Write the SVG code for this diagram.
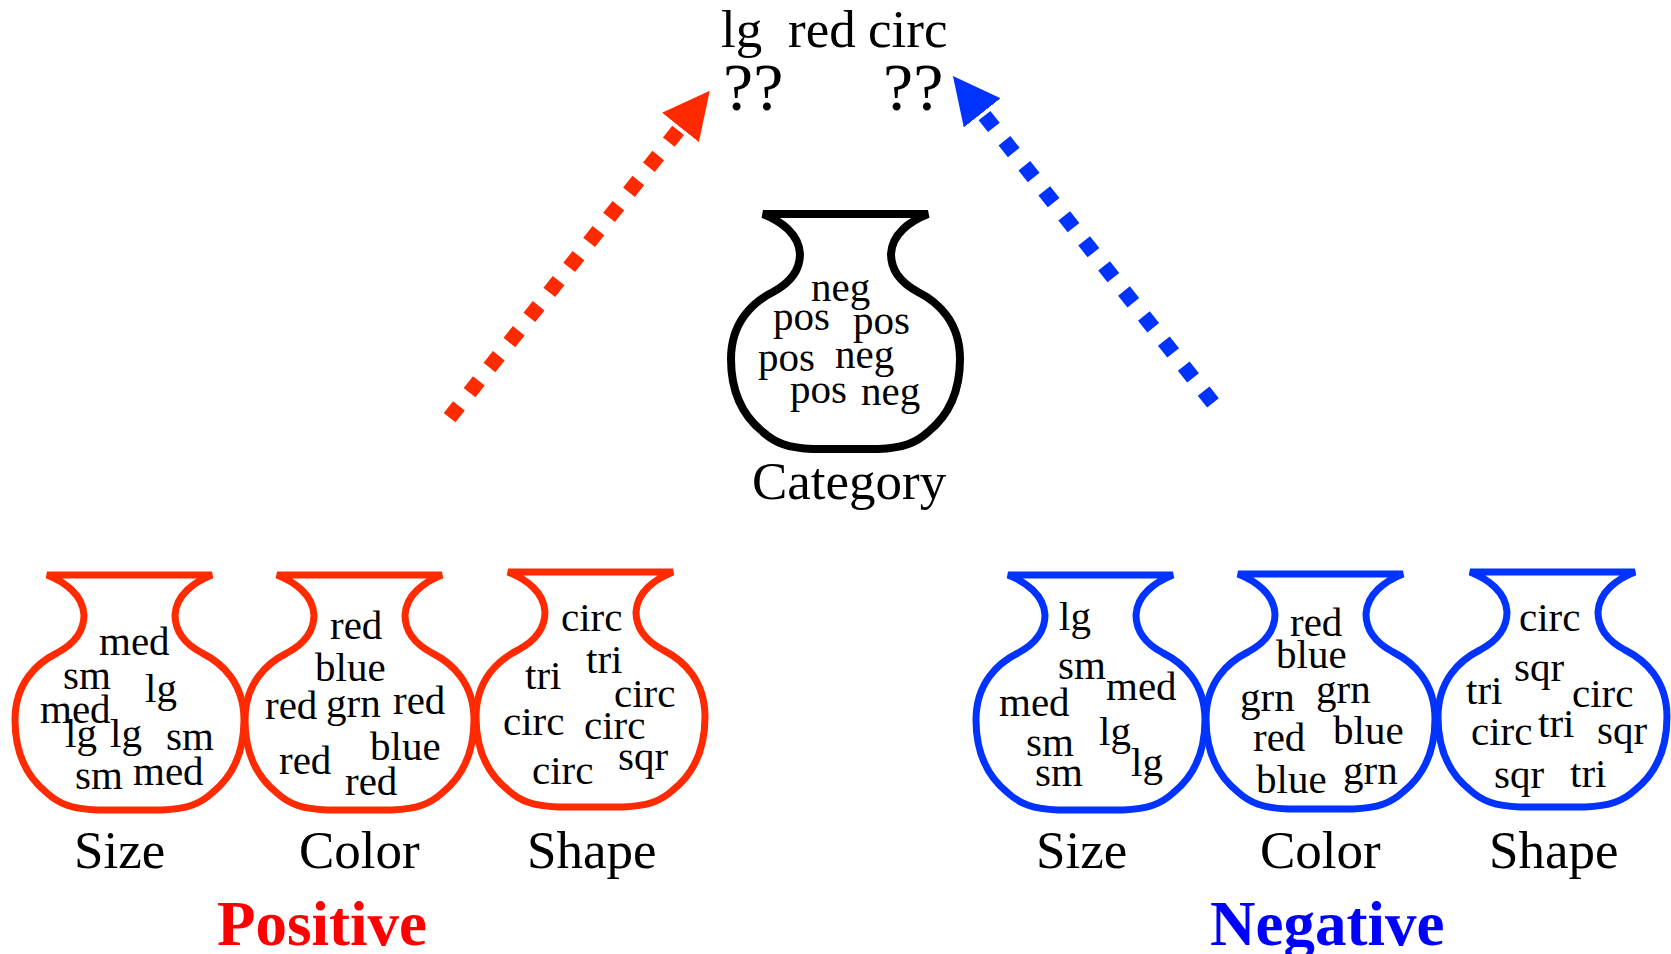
<svg xmlns="http://www.w3.org/2000/svg" xmlns:xlink="http://www.w3.org/1999/xlink" width="1671" height="954" viewBox="0 0 1671 954">
<style>
text{font-family:"Liberation Serif","Times New Roman",serif;fill:#000}
.w{font-size:41px}
.lbl{font-size:53px}
.top{font-size:53px}
.qq{font-size:68px}
.big{font-size:63px;font-weight:bold}
.jar{fill:none;stroke-width:7}
.jr{stroke:#ff2a00}
.jb{stroke:#0033ff}
.jk{stroke:#000;stroke-width:8}
.dash{fill:none;stroke-width:15;stroke-dasharray:15 17}
</style>
<defs>
<path id="jar" d="M0,0 H165 C147,7 129,20 128,40 C128,58 140,70 155,78 C175,88 197,108 197,145 C197,178 185,202 165,218 C153,229 140,234 115,235 L50,235 C25,234 12,229 0,218 C-20,202 -32,178 -32,145 C-32,108 -10,88 10,78 C25,70 37,58 37,40 C36,20 18,7 0,0 Z"/>
<marker id="ahr" markerUnits="userSpaceOnUse" markerWidth="47" markerHeight="47" viewBox="0 0 47 47" refX="0" refY="23.5" orient="auto"><path d="M0,0 L47,23.5 L0,47 Z" fill="#ff2a00"/></marker>
<marker id="ahb" markerUnits="userSpaceOnUse" markerWidth="47" markerHeight="47" viewBox="0 0 47 47" refX="0" refY="23.5" orient="auto"><path d="M0,0 L47,23.5 L0,47 Z" fill="#0033ff"/></marker>
</defs>
<rect width="1671" height="954" fill="#fff"/>

<g id="query">
<text class="top" x="721" y="47">lg</text>
<text class="top" x="788" y="47">red</text>
<text class="top" x="868" y="47">circ</text>
<text class="qq" x="723" y="110">??</text>
<text class="qq" x="883" y="110">??</text>
</g>

<g id="connectors">
<path class="dash" stroke="#ff2a00" d="M449.6,417.6 L680.5,127.5" marker-end="url(#ahr)"/>
<path class="dash" stroke="#0033ff" d="M1213,402.9 L982.2,112.8" marker-end="url(#ahb)"/>
</g>

<g id="category">
<use xlink:href="#jar" href="#jar" class="jar jk" transform="translate(763,214)"/>
<text class="w" x="811" y="301">neg</text>
<text class="w" x="773" y="330">pos</text>
<text class="w" x="853" y="334">pos</text>
<text class="w" x="758" y="371">pos</text>
<text class="w" x="835" y="368">neg</text>
<text class="w" x="790" y="403">pos</text>
<text class="w" x="861" y="405">neg</text>
<text class="lbl" x="752" y="499">Category</text>
</g>

<g id="pos-size">
<use xlink:href="#jar" href="#jar" class="jar jr" transform="translate(47,575)"/>
<text class="w" x="99" y="655">med</text>
<text class="w" x="63" y="689">sm</text>
<text class="w" x="145" y="702">lg</text>
<text class="w" x="40" y="723">med</text>
<text class="w" x="65" y="747">lg</text>
<text class="w" x="110" y="747">lg</text>
<text class="w" x="166" y="750">sm</text>
<text class="w" x="75" y="789">sm</text>
<text class="w" x="133" y="785">med</text>
<text class="lbl" x="74" y="868">Size</text>
</g>

<g id="pos-color">
<use xlink:href="#jar" href="#jar" class="jar jr" transform="translate(277,575)"/>
<text class="w" x="330" y="639">red</text>
<text class="w" x="315" y="681">blue</text>
<text class="w" x="265" y="719">red</text>
<text class="w" x="326" y="717">grn</text>
<text class="w" x="393" y="714">red</text>
<text class="w" x="370" y="760">blue</text>
<text class="w" x="279" y="774">red</text>
<text class="w" x="345" y="795">red</text>
<text class="lbl" x="299" y="868">Color</text>
</g>

<g id="pos-shape">
<use xlink:href="#jar" href="#jar" class="jar jr" transform="translate(508,572)"/>
<text class="w" x="561" y="631">circ</text>
<text class="w" x="586" y="673">tri</text>
<text class="w" x="525" y="689">tri</text>
<text class="w" x="614" y="707">circ</text>
<text class="w" x="503" y="735">circ</text>
<text class="w" x="584" y="739">circ</text>
<text class="w" x="618" y="770">sqr</text>
<text class="w" x="532" y="784">circ</text>
<text class="lbl" x="527" y="868">Shape</text>
</g>

<g id="neg-size">
<use xlink:href="#jar" href="#jar" class="jar jb" transform="translate(1008,575)"/>
<text class="w" x="1059" y="630">lg</text>
<text class="w" x="1058" y="679">sm</text>
<text class="w" x="1106" y="700">med</text>
<text class="w" x="999" y="716">med</text>
<text class="w" x="1099" y="745">lg</text>
<text class="w" x="1026" y="756">sm</text>
<text class="w" x="1131" y="776">lg</text>
<text class="w" x="1035" y="786">sm</text>
<text class="lbl" x="1036" y="868">Size</text>
</g>

<g id="neg-color">
<use xlink:href="#jar" href="#jar" class="jar jb" transform="translate(1238,574)"/>
<text class="w" x="1290" y="636">red</text>
<text class="w" x="1276" y="668">blue</text>
<text class="w" x="1240" y="711">grn</text>
<text class="w" x="1316" y="703">grn</text>
<text class="w" x="1253" y="751">red</text>
<text class="w" x="1333" y="744">blue</text>
<text class="w" x="1256" y="793">blue</text>
<text class="w" x="1343" y="784">grn</text>
<text class="lbl" x="1260" y="868">Color</text>
</g>

<g id="neg-shape">
<use xlink:href="#jar" href="#jar" class="jar jb" transform="translate(1470,572)"/>
<text class="w" x="1519" y="631">circ</text>
<text class="w" x="1514" y="681">sqr</text>
<text class="w" x="1466" y="704">tri</text>
<text class="w" x="1572" y="707">circ</text>
<text class="w" x="1471" y="745">circ</text>
<text class="w" x="1538" y="737">tri</text>
<text class="w" x="1597" y="744">sqr</text>
<text class="w" x="1494" y="788">sqr</text>
<text class="w" x="1570" y="787">tri</text>
<text class="lbl" x="1489" y="868">Shape</text>
</g>

<g id="positive"><text class="big" x="217" y="945" style="fill:#ff0000">Positive</text></g>
<g id="negative"><text class="big" x="1210" y="945" style="fill:#0000ff">Negative</text></g>
</svg>
